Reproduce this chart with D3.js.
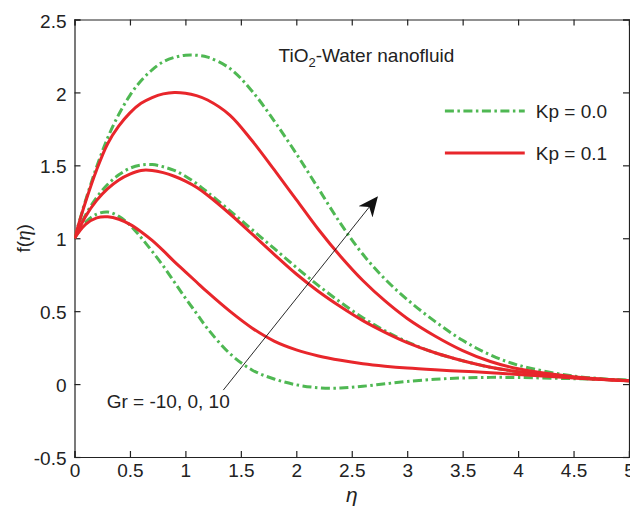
<!DOCTYPE html>
<html>
<head>
<meta charset="utf-8">
<script src="https://cdn.jsdelivr.net/npm/d3@7"></script>
<style>
    body { margin: 0; background: #fff; }
    text { font-family: "Liberation Sans", Arial, sans-serif; fill: #222; }
</style>
</head>
<body>
<div id="plot"></div>
<script>
// chart values
let etaGrid = [0, 0.1, 0.2, 0.3, 0.4, 0.5, 0.6, 0.7, 0.8, 0.9, 1.0, 1.1, 1.2, 1.4, 1.6, 1.8, 2.0, 2.2, 2.4, 2.6, 2.8, 3.0, 3.25, 3.5, 3.75, 4.0, 4.5, 5.0];

// Kp = 0.0 (dash-dot green), Gr = -10, 0, 10
let kp0GrNeg = [1.0, 1.11, 1.165, 1.18, 1.15, 1.09, 1.005, 0.91, 0.81, 0.70, 0.59, 0.485, 0.38, 0.21, 0.097, 0.035, -0.005, -0.025, -0.027, -0.015, 0.002, 0.018, 0.033, 0.042, 0.046, 0.045, 0.037, 0.027];
let kp0Gr0 = [1.0, 1.16, 1.28, 1.37, 1.435, 1.48, 1.502, 1.505, 1.49, 1.465, 1.425, 1.375, 1.315, 1.19, 1.06, 0.93, 0.80, 0.675, 0.56, 0.455, 0.365, 0.29, 0.215, 0.16, 0.115, 0.085, 0.045, 0.022];
let kp0GrPos = [1.0, 1.26, 1.49, 1.69, 1.85, 1.98, 2.08, 2.155, 2.21, 2.24, 2.255, 2.255, 2.242, 2.165, 2.01, 1.805, 1.58, 1.34, 1.10, 0.89, 0.72, 0.58, 0.43, 0.30, 0.20, 0.13, 0.055, 0.025];

// Kp = 0.1 (solid red), Gr = -10, 0, 10
let kp1GrNeg = [1.0, 1.095, 1.14, 1.147, 1.13, 1.095, 1.045, 0.985, 0.915, 0.84, 0.77, 0.70, 0.63, 0.50, 0.385, 0.295, 0.235, 0.193, 0.163, 0.14, 0.123, 0.11, 0.098, 0.088, 0.078, 0.066, 0.042, 0.022];
let kp1Gr0 = [1.0, 1.15, 1.26, 1.34, 1.40, 1.44, 1.465, 1.465, 1.45, 1.425, 1.392, 1.35, 1.295, 1.168, 1.03, 0.89, 0.755, 0.635, 0.53, 0.435, 0.355, 0.285, 0.215, 0.16, 0.115, 0.085, 0.045, 0.022];
let kp1GrPos = [1.0, 1.25, 1.47, 1.65, 1.77, 1.86, 1.925, 1.965, 1.99, 2.0, 1.995, 1.978, 1.948, 1.845, 1.67, 1.47, 1.265, 1.06, 0.875, 0.71, 0.57, 0.45, 0.33, 0.23, 0.155, 0.105, 0.05, 0.022];

let xTicks = [0, 0.5, 1, 1.5, 2, 2.5, 3, 3.5, 4, 4.5, 5];
let yTicks = [-0.5, 0, 0.5, 1, 1.5, 2, 2.5];
let legendLabels = ['Kp = 0.0', 'Kp = 0.1'];

let svgWidth = 630;
let svgHeight = 509;

let margin = { top: 19.5, right: 1, bottom: 52, left: 74.5 };
let chartWidth = svgWidth - margin.left - margin.right;
let chartHeight = svgHeight - margin.top - margin.bottom;

let green = '#4fb853';
let red = '#e8262b';
let dashDot = '9,3.5,2.5,3.5';
let fontSize = 19;

let $svg = d3.select('#plot')
    .append('svg')
    .attr('width', svgWidth)
    .attr('height', svgHeight);

let chartGroup = $svg.append('g')
    .attr('transform', `translate(${margin.left}, ${margin.top})`);

let xScale = d3.scaleLinear().domain([0, 5]).range([0, chartWidth]);
let yScale = d3.scaleLinear().domain([-0.5, 2.5]).range([chartHeight, 0]);

// box axes with inward ticks
let tickLen = 6;
let axes = [
    { axis: d3.axisBottom(xScale).tickValues(xTicks).tickSize(-tickLen), t: `translate(0, ${chartHeight})`, side: 'bottom' },
    { axis: d3.axisTop(xScale).tickValues(xTicks).tickSize(-tickLen), t: 'translate(0, 0)', side: 'top' },
    { axis: d3.axisLeft(yScale).tickValues(yTicks).tickSize(-tickLen), t: 'translate(0, 0)', side: 'left' },
    { axis: d3.axisRight(yScale).tickValues(yTicks).tickSize(-tickLen), t: `translate(${chartWidth}, 0)`, side: 'right' }
];

axes.forEach(a => {
    let g = chartGroup.append('g')
        .attr('transform', a.t)
        .call(a.axis.tickFormat(d => d));
    g.select('.domain').attr('stroke', '#222').attr('stroke-width', 1.2);
    g.selectAll('.tick line').attr('stroke', '#222').attr('stroke-width', 1.2);
    if (a.side === 'top' || a.side === 'right') {
        g.selectAll('.tick text').remove();
        return;
    }
    let labels = g.selectAll('.tick text')
        .attr('font-size', fontSize)
        .attr('font-family', '"Liberation Sans", Arial, sans-serif')
        .attr('fill', '#222');
    if (a.side === 'bottom') labels.attr('y', 4).attr('dy', '0.85em');
    else labels.attr('x', -8).attr('dy', '0.4em');
});

// curves
let line = d3.line()
    .x((d, i) => xScale(etaGrid[i]))
    .y(d => yScale(d))
    .curve(d3.curveCatmullRom.alpha(0.5));

let series = [
    { values: kp0GrNeg, color: green, dash: dashDot },
    { values: kp0Gr0, color: green, dash: dashDot },
    { values: kp0GrPos, color: green, dash: dashDot },
    { values: kp1GrNeg, color: red, dash: null },
    { values: kp1Gr0, color: red, dash: null },
    { values: kp1GrPos, color: red, dash: null }
];

chartGroup.append('clipPath').attr('id', 'clip')
    .append('rect').attr('width', chartWidth).attr('height', chartHeight);

chartGroup.append('g')
    .attr('clip-path', 'url(#clip)')
    .selectAll('path')
    .data(series)
    .enter()
    .append('path')
    .attr('d', d => line(d.values))
    .attr('fill', 'none')
    .attr('stroke', d => d.color)
    .attr('stroke-width', 3)
    .attr('stroke-dasharray', d => d.dash);

// legend
let legendRows = [
    { label: legendLabels[0], color: green, dash: dashDot, y: 1.872 },
    { label: legendLabels[1], color: red, dash: null, y: 1.585 }
];
legendRows.forEach(r => {
    chartGroup.append('line')
        .attr('x1', xScale(3.34)).attr('x2', xScale(4.06))
        .attr('y1', yScale(r.y)).attr('y2', yScale(r.y))
        .attr('stroke', r.color)
        .attr('stroke-width', 3)
        .attr('stroke-dasharray', r.dash);
    chartGroup.append('text')
        .attr('x', xScale(4.16))
        .attr('y', yScale(r.y))
        .attr('dy', '0.36em')
        .attr('font-size', fontSize)
        .text(r.label);
});

// title annotation
let title = chartGroup.append('text')
    .attr('x', xScale(1.84))
    .attr('y', yScale(2.256))
    .attr('dy', '0.36em')
    .attr('font-size', fontSize);
title.append('tspan').text('TiO');
title.append('tspan').attr('font-size', 13).attr('dy', '0.4em').text('2');
title.append('tspan').attr('dy', '-0.28em').text('-Water nanofluid');

// arrow annotation
$svg.append('defs').append('marker')
    .attr('id', 'arrowhead')
    .attr('viewBox', '0 0 10 10')
    .attr('refX', 9)
    .attr('refY', 5)
    .attr('markerWidth', 20)
    .attr('markerHeight', 20)
    .attr('markerUnits', 'userSpaceOnUse')
    .attr('orient', 'auto')
    .append('path')
    .attr('d', 'M0,0.5 L10,5 L0,9.5 L3,5 Z')
    .attr('fill', '#111');

chartGroup.append('line')
    .attr('x1', xScale(1.342)).attr('y1', yScale(-0.041))
    .attr('x2', xScale(2.725)).attr('y2', yScale(1.278))
    .attr('stroke', '#111')
    .attr('stroke-width', 0.9)
    .attr('marker-end', 'url(#arrowhead)');

chartGroup.append('text')
    .attr('x', xScale(0.29))
    .attr('y', yScale(-0.12))
    .attr('dy', '0.36em')
    .attr('font-size', fontSize)
    .text('Gr = -10, 0, 10');

// axis titles
chartGroup.append('text')
    .attr('x', chartWidth / 2)
    .attr('y', chartHeight + 45)
    .attr('text-anchor', 'middle')
    .attr('font-family', '"Liberation Serif", "Times New Roman", serif')
    .attr('font-style', 'italic')
    .attr('font-size', 21)
    .text('η');

let yTitle = chartGroup.append('text')
    .attr('transform', `rotate(-90) translate(${-yScale(1.0)}, ${-45})`)
    .attr('text-anchor', 'middle')
    .attr('font-size', fontSize);
yTitle.append('tspan').text('f(');
yTitle.append('tspan')
    .attr('font-family', '"Liberation Serif", "Times New Roman", serif')
    .attr('font-style', 'italic')
    .attr('font-size', 21)
    .text('η');
yTitle.append('tspan').text(')');
</script>
</body>
</html>
